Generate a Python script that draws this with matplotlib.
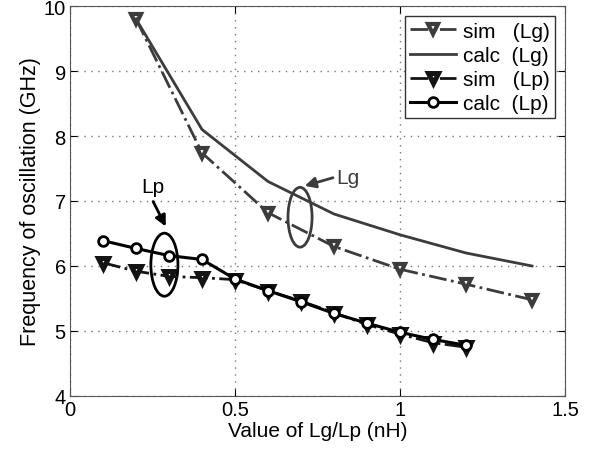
import matplotlib
matplotlib.use('Agg')
import matplotlib.pyplot as plt
from matplotlib.patches import Ellipse

plt.rcParams['font.family'] = ['Liberation Sans', 'DejaVu Sans']

# Lg sweep
lg_x = [0.2, 0.4, 0.6, 0.8, 1.0, 1.2, 1.4]
sim_lg = [9.8, 7.74, 6.82, 6.3, 5.95, 5.72, 5.48]
calc_lg = [9.8, 8.1, 7.3, 6.8, 6.48, 6.2, 6.0]

# Lp sweep
lp_x = [0.1, 0.2, 0.3, 0.4, 0.5, 0.6, 0.7, 0.8, 0.9, 1.0, 1.1, 1.2]
sim_lp = [6.05, 5.92, 5.84, 5.82, 5.79, 5.62, 5.46, 5.28, 5.1, 4.95, 4.82, 4.75]
calc_lp = [6.39, 6.27, 6.16, 6.1, 5.8, 5.62, 5.45, 5.27, 5.12, 4.98, 4.87, 4.78]

grey = '#3c3c3c'

fig = plt.figure(figsize=(6, 4.52), dpi=100)
ax = fig.add_axes([0.1167, 0.1217, 0.825, 0.8628])

ax.plot(lg_x, sim_lg, '-.', color=grey, lw=2, marker='v', ms=7,
        mfc='white', mec=grey, mew=3, label='sim   (Lg)')
ax.plot(lg_x, calc_lg, '-', color=grey, lw=2, label='calc  (Lg)')
ax.plot(lp_x, sim_lp, '-.', color='#141414', lw=2, marker='v', ms=7,
        mfc='white', mec='#141414', mew=3.6, label='sim   (Lp)')
ax.plot(lp_x, calc_lp, '-', color='black', lw=2.2, marker='o', ms=7,
        mfc='white', mec='black', mew=2, label='calc  (Lp)')

# annotation ellipses and arrows
ax.add_patch(Ellipse((0.697, 6.75), 0.073, 0.92, fill=False, ec=grey, lw=2))
ax.add_patch(Ellipse((0.286, 6.02), 0.082, 0.97, fill=False, ec='black', lw=2))
ax.annotate('', xy=(0.703, 7.22), xytext=(0.805, 7.37),
            arrowprops=dict(arrowstyle='-|>', color=grey, lw=2, mutation_scale=16))
ax.text(0.808, 7.36, 'Lg', fontsize=15, color=grey, va='center', ha='left')
ax.annotate('', xy=(0.294, 6.57), xytext=(0.248, 7.03),
            arrowprops=dict(arrowstyle='-|>', color='black', lw=2, mutation_scale=16))
ax.text(0.25, 7.22, 'Lp', fontsize=15, color='black', va='center', ha='center')

ax.set_xlim(0, 1.5)
ax.set_ylim(4, 10)
ax.set_xticks([0, 0.5, 1, 1.5])
ax.set_xticklabels(['0', '0.5', '1', '1.5'])
ax.set_yticks([4, 5, 6, 7, 8, 9, 10])
ax.grid(True, linestyle=(0, (1, 4)), color='#777777', lw=1)
ax.tick_params(direction='in', top=True, right=True, labelsize=14.5, length=5, pad=3)
for s in ax.spines.values():
    s.set_color('#555555')

ax.set_xlabel('Value of Lg/Lp (nH)', fontsize=15, labelpad=1)
ax.set_ylabel('Frequency of oscillation (GHz)', fontsize=15.5, labelpad=2)

leg = ax.legend(loc='upper right', fontsize=15, handlelength=2.2,
                borderaxespad=0.5, fancybox=False, framealpha=1,
                handletextpad=0.3, labelspacing=0.25, borderpad=0.25)
leg.get_frame().set_edgecolor('#333333')
leg.get_frame().set_linewidth(1)

fig.savefig('out.png', dpi=100)
